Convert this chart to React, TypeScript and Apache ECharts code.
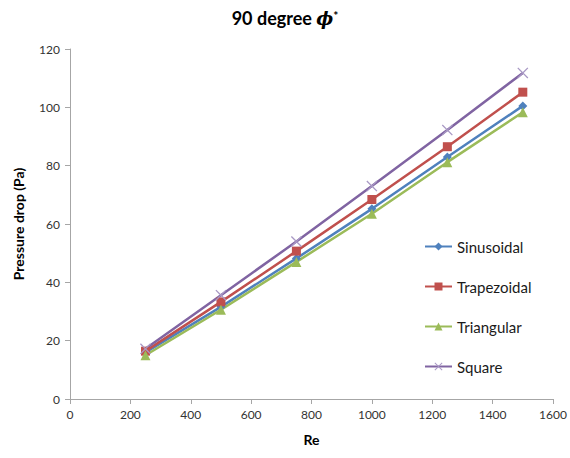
import React, { useEffect, useRef } from "react";
import * as echarts from "echarts";

const reValues = [250, 500, 750, 1000, 1250, 1500];
const sinusoidal = [16, 31.6, 48.2, 65.2, 83, 100.5];
const trapezoidal = [16.4, 33.3, 50.7, 68.4, 86.5, 105.2];
const triangular = [15, 30.6, 47, 63.5, 81.2, 98.3];
const square = [17.2, 35.6, 54, 73, 92.2, 111.8];

const FONT = "Lato, 'Open Sans', sans-serif";
const crossPath =
  "path://M0,1L1,0L6,5L11,0L12,1L7,6L12,11L11,12L6,7L1,12L0,11L5,6Z";

function pairs(ys: number[]) {
  return reValues.map((x, i) => [x, ys[i]]);
}

export default function App() {
  const ref = useRef<HTMLDivElement>(null);
  useEffect(() => {
    document.body.style.margin = "0";
    if (!ref.current) return;
    const chart = echarts.init(ref.current, undefined, { renderer: "svg" });
    const mk = (
      name: string,
      data: number[],
      color: string,
      symbol: string,
      symbolSize: number,
      symbolColor?: string
    ) => ({
      name,
      type: "line",
      data: pairs(data),
      symbol,
      symbolSize,
      lineStyle: { color, width: 2.5 },
      itemStyle: { color: symbolColor || color },
      emphasis: { disabled: true },
    });
    chart.setOption({
      animation: false,
      title: {
        text: "{a|90 degree }{b|ϕ}{c|*}",
        left: "center",
        top: 4,
        textStyle: {
          rich: {
            a: { fontFamily: FONT, fontWeight: "bold", fontSize: 18, color: "#000" },
            b: { fontFamily: "'DejaVu Serif', serif", fontWeight: "bold", fontStyle: "italic", fontSize: 18, color: "#000" },
            c: { fontFamily: FONT, fontWeight: "bold", fontSize: 12, color: "#000", verticalAlign: "top", padding: [0, 0, 6, 0] },
          },
        },
      },
      grid: { left: 70, right: 17, top: 49, bottom: 59, containLabel: false },
      legend: {
        orient: "vertical",
        left: 419,
        top: 234,
        itemGap: 25,
        itemWidth: 27,
        itemHeight: 10,
        textStyle: { fontFamily: FONT, fontSize: 15, color: "#1a1a1a" },
        data: ["Sinusoidal", "Trapezoidal", "Triangular", "Square"],
      },
      xAxis: {
        type: "value",
        min: 0,
        max: 1600,
        interval: 200,
        name: "Re",
        nameLocation: "middle",
        nameGap: 33,
        nameTextStyle: { fontFamily: FONT, fontWeight: "bold", fontSize: 14, color: "#000" },
        axisLine: { show: true, lineStyle: { color: "#a6a6a6" } },
        axisTick: { show: true, length: 5, lineStyle: { color: "#a6a6a6" } },
        axisLabel: { fontFamily: FONT, fontSize: 12, color: "#333", margin: 9, formatter: (v: number) => String(v) },
        splitLine: { show: false },
      },
      yAxis: {
        type: "value",
        min: 0,
        max: 120,
        interval: 20,
        name: "Pressure drop (Pa)",
        nameLocation: "middle",
        nameGap: 45,
        nameTextStyle: { fontFamily: FONT, fontWeight: "bold", fontSize: 14, color: "#000" },
        axisLine: { show: true, lineStyle: { color: "#a6a6a6" } },
        axisTick: { show: true, length: 5, lineStyle: { color: "#a6a6a6" } },
        axisLabel: { fontFamily: FONT, fontSize: 12, color: "#333", margin: 10 },
        splitLine: { show: false },
      },
      series: [
        mk("Sinusoidal", sinusoidal, "#4F81BD", "diamond", 9),
        mk("Trapezoidal", trapezoidal, "#C0504D", "rect", 9),
        mk("Triangular", triangular, "#9BBB59", "triangle", 10),
        mk("Square", square, "#8064A2", crossPath, 11, "#a898c4"),
      ],
    });
    return () => chart.dispose();
  }, []);
  return <div ref={ref} style={{ width: 570, height: 458 }} />;
}
